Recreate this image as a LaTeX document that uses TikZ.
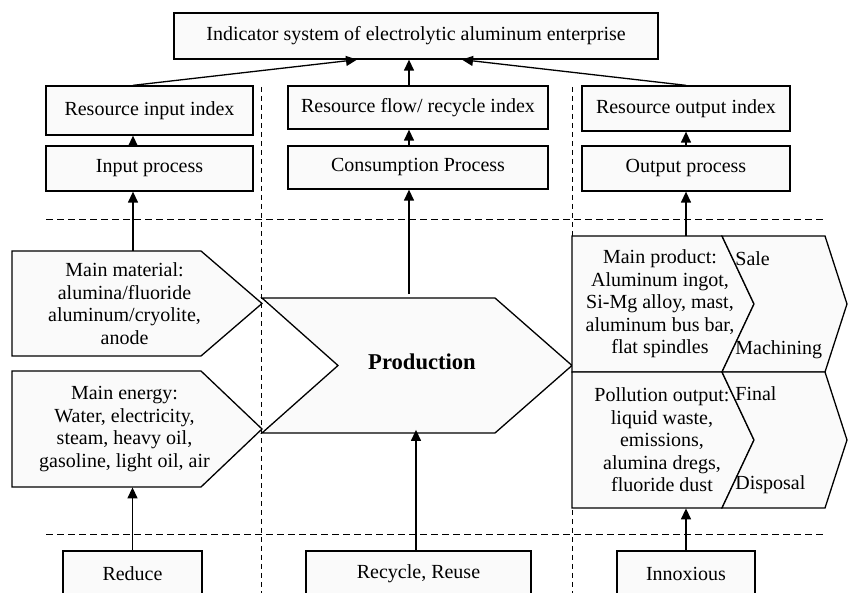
\documentclass[tikz,border=0pt]{standalone}
\usepackage{fontspec}
\setmainfont{Liberation Serif}
\usetikzlibrary{arrows.meta,calc}
\definecolor{boxfill}{HTML}{FAFAFA}
\begin{document}
\begin{tikzpicture}[x=0.5pt,y=-0.5pt,
  every node/.style={font=\fontsize{10}{11.25}\selectfont, inner sep=0pt, align=center},
  box/.style={draw, fill=boxfill, line width=0.65pt},
  region/.style={minimum width=#1},
  arr/.style={line width=0.65pt, -{Triangle[length=5.5pt,width=5pt]}},
  guide/.style={line width=0.5pt, dash pattern=on 3.5pt off 2pt},
  vguide/.style={line width=0.5pt, dash pattern=on 2.5pt off 2pt},
]
\clip (0,0) rectangle (848,593);
\fill[white] (0,0) rectangle (848,593);

% column positions of the vertical connectors
\coordinate (cL) at (133,0);
\coordinate (cM) at (409,0);
\coordinate (cRec) at (416,0);

% dashed separators
\draw[guide] (46,220) -- (824,220);
\draw[guide] (46,535) -- (824,535);
\draw[vguide] (261,87) -- (261,593);
\draw[vguide] (572,87) -- (572,593);

% top level
\node[box, minimum width=242pt, minimum height=23pt] (top) at (416,36)
  {Indicator system of electrolytic aluminum enterprise};

% index boxes
\node[box, minimum width=103.5pt, minimum height=24.5pt] (rii) at (149.5,110.5) {Resource input index};
\node[box, minimum width=130pt, minimum height=21.5pt] (rfi) at (418,107.5) {Resource flow/ recycle index};
\node[box, minimum width=104pt, minimum height=22.5pt] (roi) at (686,108.5) {Resource output index};

% process boxes
\node[box, minimum width=103.5pt, minimum height=22.5pt] (inp) at (149.5,168.5) {Input process};
\node[box, minimum width=130pt, minimum height=21.5pt] (con) at (418,167.5) {Consumption Process};
\node[box, minimum width=104pt, minimum height=22.5pt] (outp) at (686,168.5) {Output process};

% input pentagons
\draw[box] (12,251) -- (201,251) -- (262,303.5) -- (201,356) -- (12,356) -- cycle;
\draw[box] (12,371) -- (201,371) -- (262,429) -- (201,487) -- (12,487) -- cycle;
\node[minimum width=112.5pt, minimum height=52.5pt] (mat) at (124.5,303.5)
  {Main material:\\alumina/fluoride\\aluminum/cryolite,\\anode};
\node[minimum width=112.5pt, minimum height=58pt] (eng) at (124.5,429)
  {Main energy:\\Water, electricity,\\steam, heavy oil,\\gasoline, light oil, air};

% production chevron
\draw[box] (262,298) -- (495,298) -- (572,365.5) -- (495,433) -- (262,433) -- (338,365.5) -- cycle;
\node[minimum width=100pt, minimum height=67.5pt, font=\fontsize{11.3}{13}\selectfont\bfseries] (prod) at (422,362) {Production};

% output chevrons
\draw[box] (572,236) -- (722,236) -- (754,304) -- (722,372) -- (572,372) -- cycle;
\draw[box] (722,236) -- (825,236) -- (847,304) -- (825,372) -- (722,372) -- (754,304) -- cycle;
\draw[box] (572,372) -- (722,372) -- (754,440) -- (722,508) -- (572,508) -- cycle;
\draw[box] (722,372) -- (825,372) -- (847,440) -- (825,508) -- (722,508) -- (754,440) -- cycle;
\node[minimum width=80pt, minimum height=68pt] (mp) at (660,304)
  {Main product:\\Aluminum ingot,\\Si-Mg alloy, mast,\\aluminum bus bar,\\flat spindles};
\node[minimum width=80pt, minimum height=68pt] (pol) at (662,440)
  {Pollution output:\\liquid waste,\\emissions,\\alumina dregs,\\fluoride dust};
\node[anchor=west] (sale) at (735,259) {Sale};
\node[anchor=west] (mach) at (735,350) {Machining};
\node[anchor=west] (final) at (735,394) {Final};
\node[anchor=west] (disp) at (735,485) {Disposal};

% principle boxes
\node[box, minimum width=69.5pt, minimum height=23pt] (reduce) at (132.5,574) {Reduce};
\node[box, minimum width=112.5pt, minimum height=23pt] (recycle) at (418.5,574) {Recycle, Reuse};
\node[box, minimum width=69pt, minimum height=23pt] (inno) at (686,574) {Innoxious};

% connectors
\draw[arr] (rii.north -| cL) -- ($(top.south)+(-59,0)$);
\draw[arr] (rfi.north -| cM) -- (top.south -| cM);
\draw[arr] (roi.north) -- ($(top.south)+(46,0)$);
\draw[arr] (inp.north -| cL) -- (rii.south -| cL);
\draw[arr] (con.north -| cM) -- (rfi.south -| cM);
\draw[arr] (outp.north) -- (roi.south);
\draw[arr] (mat.north -| cL) -- (inp.south -| cL);
\draw[arr] (prod.north -| cM) -- (con.south -| cM);
\draw[arr] (mp.north -| outp.south) -- (outp.south);
\draw[arr] (reduce.north) -- (eng.south -| reduce.north);
\draw[arr] (recycle.north -| cRec) -- (prod.south -| cRec);
\draw[arr] (inno.north) -- (pol.south -| inno.north);
\end{tikzpicture}
\end{document}
